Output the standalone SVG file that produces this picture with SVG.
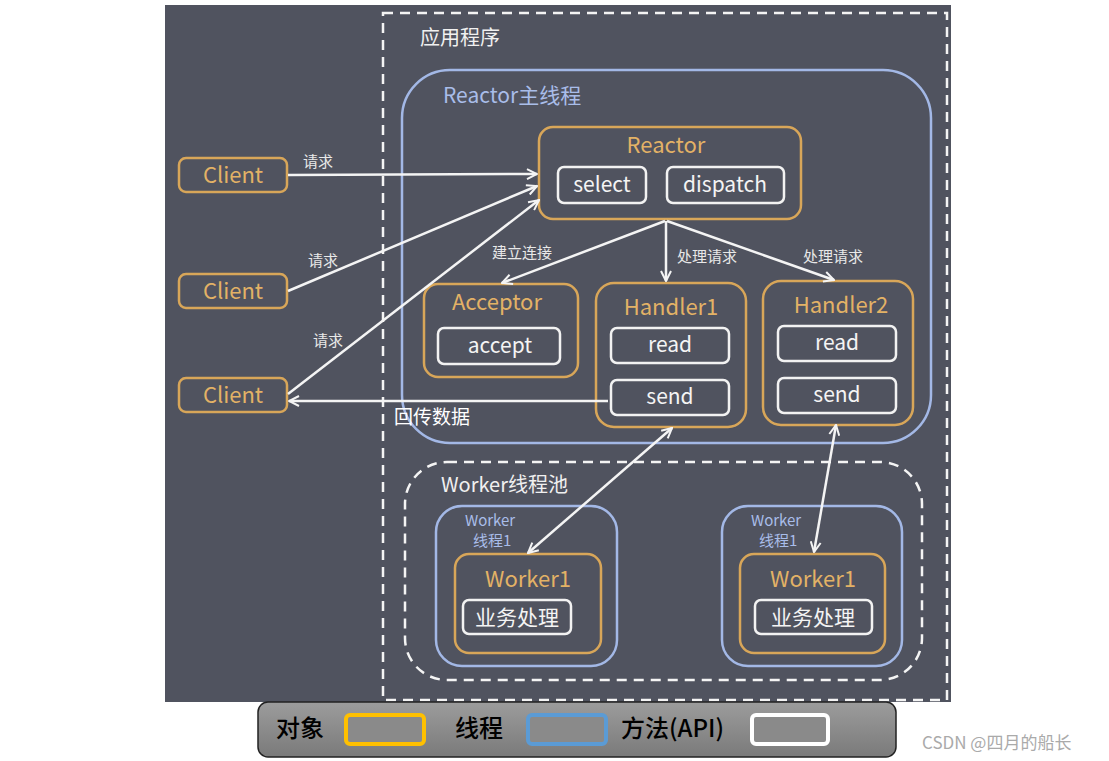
<svg xmlns="http://www.w3.org/2000/svg" width="1109" height="761" viewBox="0 0 1109 761">
<defs>
<style>
text{font-family:"Noto Sans CJK SC","Noto Sans",sans-serif;}
.obj{fill:none;stroke:#d8a659;stroke-width:2.5;}
.thr{fill:none;stroke:#a3b8e6;stroke-width:2.5;}
.api{fill:none;stroke:#f2f2f2;stroke-width:2.5;}
.dash{fill:none;stroke:#f4f4f4;stroke-width:2.5;stroke-dasharray:10 7;}
.ot{fill:#e3b266;font-size:22px;text-anchor:middle;}
.at{fill:#f4f4f4;font-size:21px;text-anchor:middle;}
.tt{fill:#a9bde9;}
.lbl{fill:#e8e8e8;font-size:15px;}
.con{stroke:#f4f4f4;stroke-width:2.5;fill:none;}
.leg{fill:#000;font-size:24px;font-weight:500;}
</style>
<marker id="ah" viewBox="0 0 12 12" refX="11" refY="6" markerWidth="12" markerHeight="12" markerUnits="userSpaceOnUse" orient="auto-start-reverse">
<path d="M1,1 L11,6 L1,11" fill="none" stroke="#f4f4f4" stroke-width="2"/>
</marker>
<linearGradient id="lg" x1="0" y1="0" x2="0" y2="1">
<stop offset="0" stop-color="#9c9c9c"/>
<stop offset="1" stop-color="#7a7a7a"/>
</linearGradient>
</defs>
<rect x="0" y="0" width="1109" height="761" fill="#ffffff"/>
<rect x="165" y="5" width="786" height="697" fill="#50535f"/>
<g id="app">
<rect class="dash" x="383" y="13" width="564" height="687"/>
<text x="420" y="45" fill="#f0f0f0" font-size="20">应用程序</text>
</g>
<g id="reactor-thread">
<rect class="thr" x="402" y="70" width="529" height="373" rx="48"/>
<text class="tt" x="443" y="103" font-size="21">Reactor主线程</text>
</g>
<g id="reactor">
<rect class="obj" x="539" y="127" width="262" height="92" rx="14"/>
<text class="ot" x="666" y="153">Reactor</text>
<rect class="api" x="558" y="167" width="88" height="36" rx="6"/>
<text class="at" x="602" y="192">select</text>
<rect class="api" x="667" y="167" width="117" height="36" rx="6"/>
<text class="at" x="725" y="192">dispatch</text>
</g>
<g id="acceptor">
<rect class="obj" x="424" y="284" width="154" height="93" rx="14"/>
<text class="ot" x="497" y="310">Acceptor</text>
<rect class="api" x="438" y="328" width="122" height="36" rx="6"/>
<text class="at" x="500" y="353">accept</text>
</g>
<g id="handler1">
<rect class="obj" x="596" y="283" width="150" height="144" rx="18"/>
<text class="ot" x="671" y="315">Handler1</text>
<rect class="api" x="611" y="328" width="118" height="35" rx="6"/>
<text class="at" x="670" y="352">read</text>
<rect class="api" x="611" y="380" width="118" height="35" rx="6"/>
<text class="at" x="670" y="404">send</text>
</g>
<g id="handler2">
<rect class="obj" x="763" y="281" width="150" height="144" rx="18"/>
<text class="ot" x="841" y="313">Handler2</text>
<rect class="api" x="778" y="326" width="118" height="35" rx="6"/>
<text class="at" x="837" y="350">read</text>
<rect class="api" x="778" y="378" width="118" height="35" rx="6"/>
<text class="at" x="837" y="402">send</text>
</g>
<g id="client1">
<rect class="obj" x="179" y="158" width="108" height="34" rx="7"/>
<text class="ot" x="233" y="183">Client</text>
</g>
<g id="client2">
<rect class="obj" x="179" y="274" width="108" height="34" rx="7"/>
<text class="ot" x="233" y="299">Client</text>
</g>
<g id="client3">
<rect class="obj" x="179" y="378" width="108" height="34" rx="7"/>
<text class="ot" x="233" y="403">Client</text>
</g>
<g id="worker-pool">
<rect class="dash" x="405" y="462" width="517" height="218" rx="42"/>
<text x="441" y="492" fill="#f0f0f0" font-size="20">Worker线程池</text>
</g>
<g id="worker-thread-left">
<rect class="thr" x="436" y="506" width="181" height="160" rx="26"/>
<text class="tt" x="465" y="526" font-size="15">Worker</text>
<text class="tt" x="473" y="546" font-size="15">线程1</text>
</g>
<g id="worker1-left">
<rect class="obj" x="455" y="554" width="146" height="99" rx="14"/>
<text class="ot" x="528" y="587">Worker1</text>
<rect class="api" x="463" y="600" width="108" height="34" rx="6"/>
<text class="at" x="517" y="625">业务处理</text>
</g>
<g id="worker-thread-right">
<rect class="thr" x="722" y="506" width="180" height="160" rx="26"/>
<text class="tt" x="751" y="526" font-size="15">Worker</text>
<text class="tt" x="759" y="546" font-size="15">线程1</text>
</g>
<g id="worker1-right">
<rect class="obj" x="740" y="554" width="145" height="99" rx="14"/>
<text class="ot" x="813" y="587">Worker1</text>
<rect class="api" x="755" y="600" width="117" height="34" rx="6"/>
<text class="at" x="813" y="625">业务处理</text>
</g>
<g id="connectors">
<line class="con" x1="288" y1="175" x2="537" y2="174" marker-end="url(#ah)"/>
<line class="con" x1="288" y1="291" x2="537" y2="186" marker-end="url(#ah)"/>
<line class="con" x1="288" y1="394" x2="539" y2="200" marker-end="url(#ah)"/>
<line class="con" x1="665" y1="221" x2="502" y2="283" marker-end="url(#ah)"/>
<line class="con" x1="666" y1="221" x2="666" y2="281" marker-end="url(#ah)"/>
<line class="con" x1="667" y1="221" x2="834" y2="280" marker-end="url(#ah)"/>
<line class="con" x1="608" y1="401" x2="289" y2="401" marker-end="url(#ah)"/>
<line class="con" x1="672" y1="428" x2="528" y2="553" marker-start="url(#ah)" marker-end="url(#ah)"/>
<line class="con" x1="836" y1="425" x2="814" y2="552" marker-start="url(#ah)" marker-end="url(#ah)"/>
<text class="lbl" x="303" y="167">请求</text>
<text class="lbl" x="308" y="266">请求</text>
<text class="lbl" x="313" y="346">请求</text>
<text class="lbl" x="492" y="258">建立连接</text>
<text class="lbl" x="677" y="262">处理请求</text>
<text class="lbl" x="803" y="262">处理请求</text>
<text x="394" y="424" fill="#ffffff" font-size="19">回传数据</text>
</g>
<g id="legend">
<rect x="258" y="702" width="638" height="55" rx="10" fill="url(#lg)" stroke="#222" stroke-width="1.5"/>
<text class="leg" x="276" y="737">对象</text>
<rect x="346" y="715" width="78" height="29" rx="4" fill="#8a8a8a" stroke="#ffc000" stroke-width="4"/>
<text class="leg" x="455" y="737">线程</text>
<rect x="528" y="715" width="78" height="29" rx="4" fill="#8a8a8a" stroke="#5b9bd5" stroke-width="4"/>
<text class="leg" x="621" y="737">方法(API)</text>
<rect x="752" y="715" width="76" height="29" rx="4" fill="#8a8a8a" stroke="#ffffff" stroke-width="4"/>
</g>
<text x="922" y="749" fill="#aaaaaa" font-size="17">CSDN @四月的船长</text>
</svg>
